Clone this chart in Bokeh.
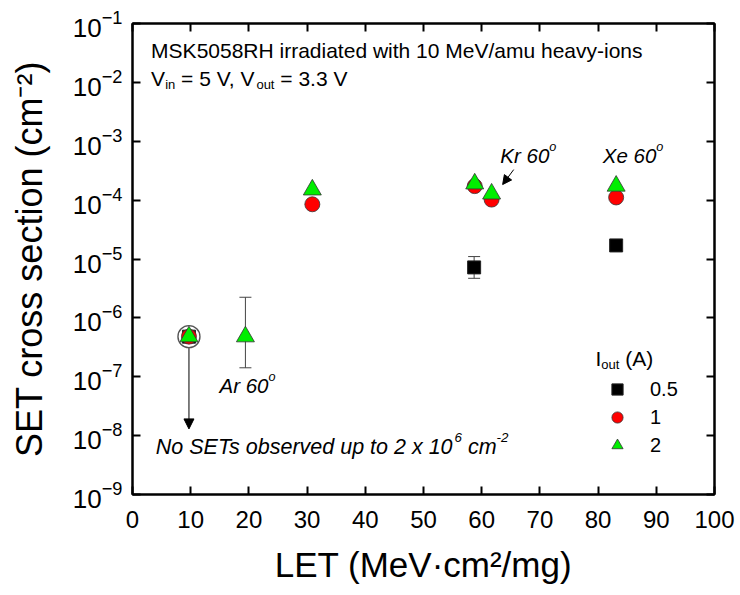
from bokeh.plotting import figure
from bokeh.models import (Range1d, FixedTicker, LinearAxis, LogAxis, CustomJSTickFormatter,
                          Label, Whisker, ColumnDataSource, Arrow, NormalHead, TeeHead,
                          Legend, LegendItem)
from bokeh.embed import file_html
from bokeh.resources import INLINE

# ---------------- data ----------------
# I_out = 0.5 A
let_05 = [9.7, 58.7, 83.1]
sig_05 = [4.8e-7, 7.2e-6, 1.7e-5]
# error bars for 0.5 A
err05_let = [58.7, 83.1]
err05_lo = [4.7e-6, 1.55e-5]
err05_hi = [1.1e-5, 1.9e-5]
# I_out = 1 A
let_1 = [9.7, 30.9, 58.8, 61.7, 83.1]
sig_1 = [4.8e-7, 8.5e-5, 1.73e-4, 1.02e-4, 1.11e-4]
# I_out = 2 A
let_2 = [9.7, 19.4, 30.9, 58.8, 61.7, 83.1]
sig_2 = [4.8e-7, 4.8e-7, 1.5e-4, 1.9e-4, 1.28e-4, 1.74e-4]
err2_let = [19.4]
err2_lo = [1.42e-7]
err2_hi = [2.24e-6]
# upper limit (no SETs observed)
ul_let = [9.7]
ul_sig = [4.8e-7]
ul_end = [1.3e-8]

x_ticks = [0, 10, 20, 30, 40, 50, 60, 70, 80, 90, 100]
y_ticks = [1e-9, 1e-8, 1e-7, 1e-6, 1e-5, 1e-4, 1e-3, 1e-2, 1e-1]
legend_labels = ["0.5", "1", "2"]

FONT = "Liberation Sans"

p = figure(width=740, height=595, x_range=Range1d(0, 100), y_range=Range1d(1e-9, 1e-1),
           y_axis_type="log", output_backend="svg", toolbar_location=None,
           min_border_left=132, min_border_right=26, min_border_top=23, min_border_bottom=101)
p.grid.visible = False
p.outline_line_color = "black"
p.outline_line_width = 2
p.background_fill_color = "white"
p.border_fill_color = "white"

xax = p.xaxis[0]
xax.ticker = FixedTicker(ticks=x_ticks)
yax = p.yaxis[0]
yax.ticker = FixedTicker(ticks=y_ticks)
for ax in (xax, yax):
    ax.axis_line_width = 2
    ax.major_tick_line_width = 2
    ax.major_tick_in = 8
    ax.major_tick_out = 0
    ax.minor_tick_line_color = None
    ax.major_label_text_font = FONT
    ax.major_label_text_color = "black"
    ax.axis_label_text_font = FONT
    ax.axis_label_text_font_style = "normal"
    ax.axis_label_text_color = "black"
xax.major_label_text_font_size = "24px"
xax.major_label_standoff = 16
xax.axis_label = "LET (MeV·cm²/mg)"
xax.axis_label_text_font_size = "35px"
xax.axis_label_standoff = 14
yax.major_label_text_font_size = "26px"
yax.major_label_standoff = 10
yax.axis_label = "SET cross section (cm⁻²)"
yax.axis_label_text_font_size = "36px"
yax.axis_label_standoff = 20

blank = CustomJSTickFormatter(code="return ''")
top = LinearAxis(ticker=FixedTicker(ticks=x_ticks), formatter=blank)
right = LogAxis(ticker=FixedTicker(ticks=y_ticks), formatter=blank)
for ax in (top, right):
    ax.axis_line_width = 2
    ax.major_tick_line_width = 2
    ax.major_tick_in = 8
    ax.major_tick_out = 0
    ax.minor_tick_line_color = None
    ax.major_label_standoff = 0
    ax.major_label_text_font_size = "1px"
p.add_layout(top, "above")
p.add_layout(right, "right")

# ---------------- upper-limit arrow ----------------
ul_src = ColumnDataSource(dict(x0=ul_let, y0=ul_sig, x1=ul_let, y1=ul_end))
p.add_layout(Arrow(source=ul_src, x_start="x0", y_start="y0", x_end="x1", y_end="y1",
                   line_color="black", line_width=1, level="underlay",
                   end=NormalHead(size=10, fill_color="black", line_color="black", line_width=1)))
p.scatter(ul_let, ul_sig, marker="circle", size=22, fill_color="white",
          line_color="#555555", line_width=1.4)

# ---------------- error bars ----------------
e05 = ColumnDataSource(dict(x=err05_let, lo=err05_lo, hi=err05_hi))
p.add_layout(Whisker(source=e05, base="x", lower="lo", upper="hi", dimension="height",
                     line_color="#444444", line_width=1, level="underlay",
                     upper_head=TeeHead(size=12, line_color="#444444", line_width=1),
                     lower_head=TeeHead(size=12, line_color="#444444", line_width=1)))
e2 = ColumnDataSource(dict(x=err2_let, lo=err2_lo, hi=err2_hi))
p.add_layout(Whisker(source=e2, base="x", lower="lo", upper="hi", dimension="height",
                     line_color="#444444", line_width=1, level="underlay",
                     upper_head=TeeHead(size=12, line_color="#444444", line_width=1),
                     lower_head=TeeHead(size=12, line_color="#444444", line_width=1)))

# ---------------- series ----------------
r05 = p.scatter(let_05, sig_05, marker="square", size=13, fill_color="black",
                line_color="#222222", line_width=1)
r1 = p.scatter(let_1, sig_1, marker="circle", size=15, fill_color="#ff0000",
               line_color="#333333", line_width=0.8)
r2 = p.scatter(let_2, sig_2, marker="triangle", size=18, fill_color="#00ee00",
               line_color="#333333", line_width=0.8)

legend = Legend(items=[LegendItem(label=legend_labels[0], renderers=[r05]),
                       LegendItem(label=legend_labels[1], renderers=[r1]),
                       LegendItem(label=legend_labels[2], renderers=[r2])],
                location=(470, 35), glyph_width=30, glyph_height=28, label_height=28,
                spacing=0, padding=0, margin=0, label_standoff=18,
                border_line_color=None, background_fill_alpha=0,
                label_text_font=FONT, label_text_font_size="20px", label_text_color="black")
p.add_layout(legend)

# ---------------- rich text annotations ----------------
W = {' ': 278, '(': 333, ')': 333, ',': 278, '-': 333, '.': 278, '/': 278, '=': 584,
     'A': 667, 'E': 667, 'H': 722, 'I': 278, 'K': 667, 'M': 833, 'N': 722, 'R': 722,
     'S': 667, 'T': 611, 'V': 667, 'X': 667, 'a': 556, 'b': 556, 'c': 500, 'd': 556,
     'e': 556, 'h': 556, 'i': 222, 'm': 833, 'n': 556, 'o': 556, 'p': 556, 'r': 333,
     's': 500, 't': 278, 'u': 556, 'v': 500, 'w': 722, 'x': 500, 'y': 500}


def tw(s, size):
    return sum(W.get(c, 556) for c in s) * size / 1000.0


def rich(x, y, pieces, size, style="normal", lift=7):
    off = 0.0
    for txt, kind in pieces:
        fs = size if kind == "n" else size * 0.62
        yo = lift + (0.0 if kind == "n" else (-0.3 * size if kind == "sub" else 0.42 * size))
        core = txt.strip(" ")
        lead = len(txt) - len(txt.lstrip(" "))
        off += tw(" " * lead, fs)
        p.add_layout(Label(x=x, y=y, x_offset=off, y_offset=yo, text=core,
                           text_font=FONT, text_font_size=f"{fs:.1f}px",
                           text_font_style=style, text_baseline="alphabetic",
                           text_align="left", text_color="black"))
        off += tw(txt.lstrip(" "), fs)


rich(3.2, 2.64e-2, [("MSK5058RH irradiated with 10 MeV/amu heavy-ions", "n")], 21)
rich(3.2, 8.85e-3, [("V", "n"), ("in", "sub"), (" = 5 V, V", "n"), ("out", "sub"),
                    (" = 3.3 V", "n")], 21)
rich(14.95, 5.4e-8, [("Ar 60", "n"), ("o", "sup")], 20.5, "italic")
rich(63.2, 4.35e-4, [("Kr 60", "n"), ("o", "sup")], 20.5, "italic")
rich(80.8, 4.35e-4, [("Xe 60", "n"), ("o", "sup")], 20.5, "italic")
rich(4.0, 4.97e-9, [("No SETs observed up to 2 x 10", "n"), ("6", "sup"), (" cm", "n"),
                    ("-2", "sup")], 21.5, "italic")
rich(79.55, 1.55e-7, [("I", "n"), ("out", "sub"), (" (A)", "n")], 21)

# Kr pointer arrow
p.add_layout(Arrow(x_start=65.5, y_start=3.3e-4, x_end=63.6, y_end=1.84e-4,
                   line_color="black", line_width=1,
                   end=NormalHead(size=9, fill_color="black", line_color="black", line_width=1)))

open("out.html", "w").write(file_html(p, INLINE))
